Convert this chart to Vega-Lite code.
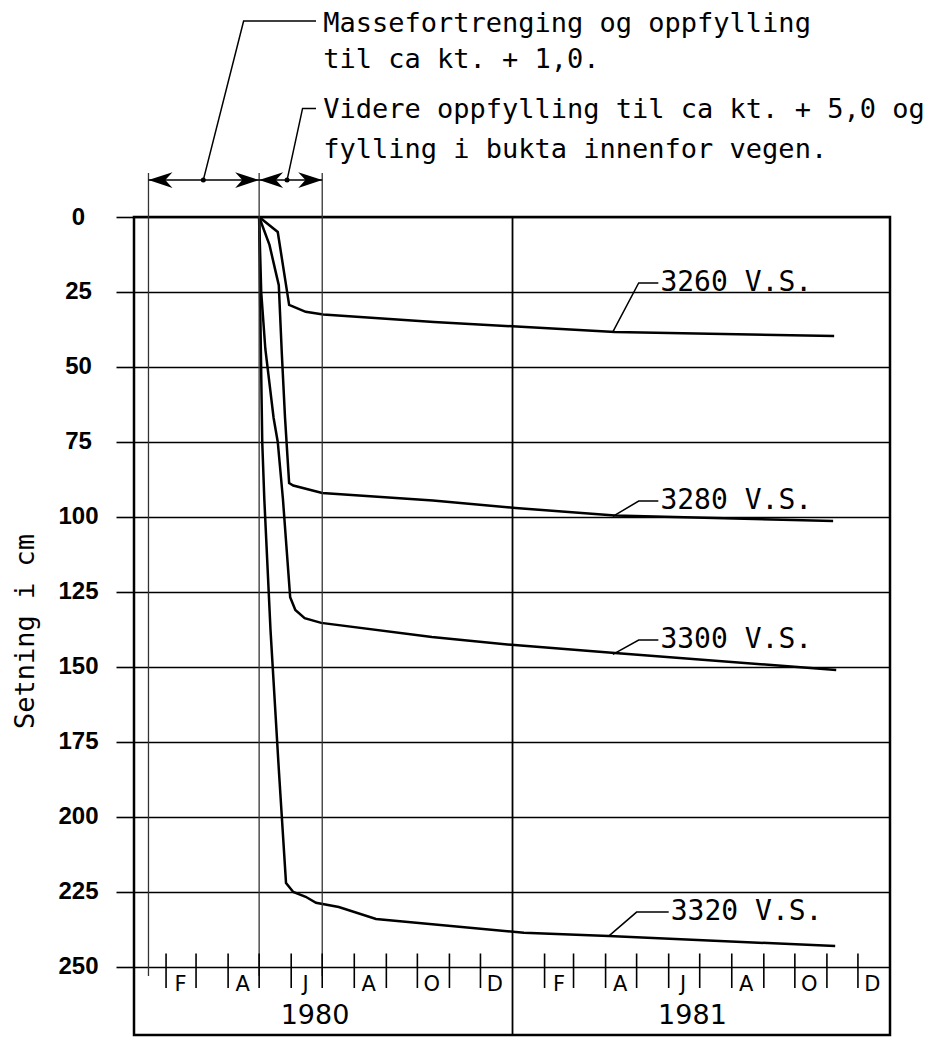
{
  "$schema": "https://vega.github.io/schema/vega-lite/v6.json",
  "autosize": "none",
  "padding": {"left": 134, "top": 217, "right": 54, "bottom": 5},
  "width": 756,
  "height": 818,
  "background": "white",
  "config": {
    "view": {"stroke": "black", "strokeWidth": 2.5},
    "font": "DejaVu Sans"
  },
  "datasets": {
    "curves": [
      {"s": "3260", "d": "1980-05-01", "v": 0},
      {"s": "3260", "d": "1980-05-19", "v": 5},
      {"s": "3260", "d": "1980-05-30", "v": 29.3},
      {"s": "3260", "d": "1980-06-15", "v": 31.6},
      {"s": "3260", "d": "1980-07-02", "v": 32.5},
      {"s": "3260", "d": "1980-10-17", "v": 35},
      {"s": "3260", "d": "1981-01-05", "v": 36.5},
      {"s": "3260", "d": "1981-04-10", "v": 38.3},
      {"s": "3260", "d": "1981-11-08", "v": 39.7},
      {"s": "3280", "d": "1980-05-01", "v": 0},
      {"s": "3280", "d": "1980-05-11", "v": 9.3},
      {"s": "3280", "d": "1980-05-17", "v": 18.3},
      {"s": "3280", "d": "1980-05-20", "v": 22.7},
      {"s": "3280", "d": "1980-05-23", "v": 46},
      {"s": "3280", "d": "1980-05-26", "v": 66.7},
      {"s": "3280", "d": "1980-05-30", "v": 88.7},
      {"s": "3280", "d": "1980-06-03", "v": 89.5},
      {"s": "3280", "d": "1980-07-01", "v": 92},
      {"s": "3280", "d": "1980-10-16", "v": 94.5},
      {"s": "3280", "d": "1981-01-04", "v": 97},
      {"s": "3280", "d": "1981-04-10", "v": 99.5},
      {"s": "3280", "d": "1981-11-07", "v": 101.3},
      {"s": "3300", "d": "1980-05-01", "v": 0},
      {"s": "3300", "d": "1980-05-03", "v": 25},
      {"s": "3300", "d": "1980-05-07", "v": 44},
      {"s": "3300", "d": "1980-05-15", "v": 67},
      {"s": "3300", "d": "1980-05-19", "v": 75},
      {"s": "3300", "d": "1980-05-24", "v": 94},
      {"s": "3300", "d": "1980-05-31", "v": 126.7},
      {"s": "3300", "d": "1980-06-05", "v": 131},
      {"s": "3300", "d": "1980-06-14", "v": 133.7},
      {"s": "3300", "d": "1980-06-30", "v": 135.3},
      {"s": "3300", "d": "1980-10-15", "v": 140},
      {"s": "3300", "d": "1981-01-03", "v": 142.7},
      {"s": "3300", "d": "1981-04-10", "v": 145.3},
      {"s": "3300", "d": "1981-11-10", "v": 151},
      {"s": "3320", "d": "1980-05-01", "v": 0},
      {"s": "3320", "d": "1980-05-02", "v": 29},
      {"s": "3320", "d": "1980-05-04", "v": 75},
      {"s": "3320", "d": "1980-05-06", "v": 94},
      {"s": "3320", "d": "1980-05-12", "v": 137.7},
      {"s": "3320", "d": "1980-05-20", "v": 184},
      {"s": "3320", "d": "1980-05-27", "v": 222},
      {"s": "3320", "d": "1980-06-03", "v": 225},
      {"s": "3320", "d": "1980-06-15", "v": 226.6},
      {"s": "3320", "d": "1980-06-25", "v": 228.6},
      {"s": "3320", "d": "1980-07-17", "v": 230},
      {"s": "3320", "d": "1980-08-22", "v": 234},
      {"s": "3320", "d": "1981-01-12", "v": 238.6},
      {"s": "3320", "d": "1981-04-04", "v": 239.7},
      {"s": "3320", "d": "1981-11-09", "v": 243}
    ],
    "leaders": [
      {"g": "3260", "o": 1, "d": "1981-04-08", "v": 38.3},
      {"g": "3260", "o": 2, "d": "1981-05-03", "v": 22},
      {"g": "3260", "o": 3, "d": "1981-05-22", "v": 22},
      {"g": "3280", "o": 1, "d": "1981-04-08", "v": 99.8},
      {"g": "3280", "o": 2, "d": "1981-05-03", "v": 94.7},
      {"g": "3280", "o": 3, "d": "1981-05-22", "v": 94.7},
      {"g": "3300", "o": 1, "d": "1981-04-08", "v": 145.8},
      {"g": "3300", "o": 2, "d": "1981-05-03", "v": 141},
      {"g": "3300", "o": 3, "d": "1981-05-22", "v": 141},
      {"g": "3320", "o": 1, "d": "1981-04-04", "v": 239.7},
      {"g": "3320", "o": 2, "d": "1981-05-01", "v": 231.7},
      {"g": "3320", "o": 3, "d": "1981-06-01", "v": 231.7},
      {"g": "a1", "o": 1, "d": "1980-03-08", "v": -12.3},
      {"g": "a1", "o": 2, "d": "1980-04-16", "v": -65.3},
      {"g": "a1", "o": 3, "d": "1980-06-25", "v": -65.3},
      {"g": "a2", "o": 1, "d": "1980-05-28", "v": -12.3},
      {"g": "a2", "o": 2, "d": "1980-06-12", "v": -36.2},
      {"g": "a2", "o": 3, "d": "1980-06-25", "v": -36.2}
    ],
    "labels": [
      {"t": "3260 V.S.", "d": "1981-05-24", "v": 22},
      {"t": "3280 V.S.", "d": "1981-05-24", "v": 94.7},
      {"t": "3300 V.S.", "d": "1981-05-24", "v": 141},
      {"t": "3320 V.S.", "d": "1981-06-03", "v": 231.7}
    ],
    "notes": [
      {"t": "Massefortrenging og oppfylling", "d": "1980-07-01", "v": -64.3},
      {"t": "til ca kt. + 1,0.", "d": "1980-07-01", "v": -52.5},
      {"t": "Videre oppfylling til ca kt. + 5,0 og", "d": "1980-07-01", "v": -35.7},
      {"t": "fylling i bukta innenfor vegen.", "d": "1980-07-01", "v": -22.5}
    ],
    "bounds": [
      {"d": "1980-01-15"},
      {"d": "1980-05-01"},
      {"d": "1980-07-01"}
    ],
    "spans": [
      {"d": "1980-01-15", "d2": "1980-05-01"},
      {"d": "1980-05-01", "d2": "1980-07-01"}
    ],
    "heads": [
      {"d": "1980-01-15", "dir": "l"},
      {"d": "1980-05-01", "dir": "r"},
      {"d": "1980-05-01", "dir": "l"},
      {"d": "1980-07-01", "dir": "r"}
    ],
    "dots": [
      {"d": "1980-03-08"},
      {"d": "1980-05-28"}
    ],
    "months": [
      {"d": "1980-02-01"}, {"d": "1980-03-01"}, {"d": "1980-04-01"}, {"d": "1980-05-01"},
      {"d": "1980-06-01"}, {"d": "1980-07-01"}, {"d": "1980-08-01"}, {"d": "1980-09-01"},
      {"d": "1980-10-01"}, {"d": "1980-11-01"}, {"d": "1980-12-01"},
      {"d": "1981-02-01"}, {"d": "1981-03-01"}, {"d": "1981-04-01"}, {"d": "1981-05-01"},
      {"d": "1981-06-01"}, {"d": "1981-07-01"}, {"d": "1981-08-01"}, {"d": "1981-09-01"},
      {"d": "1981-10-01"}, {"d": "1981-11-01"}, {"d": "1981-12-01"}
    ],
    "monthLetters": [
      {"d": "1980-02-15", "t": "F"}, {"d": "1980-04-15", "t": "A"}, {"d": "1980-06-15", "t": "J"},
      {"d": "1980-08-15", "t": "A"}, {"d": "1980-10-15", "t": "O"}, {"d": "1980-12-15", "t": "D"},
      {"d": "1981-02-15", "t": "F"}, {"d": "1981-04-15", "t": "A"}, {"d": "1981-06-15", "t": "J"},
      {"d": "1981-08-15", "t": "A"}, {"d": "1981-10-15", "t": "O"}, {"d": "1981-12-15", "t": "D"}
    ],
    "years": [
      {"d": "1980-06-24", "t": "1980"},
      {"d": "1981-06-24", "t": "1981"}
    ],
    "yearLine": [
      {"d": "1981-01-01"}
    ]
  },
  "layer": [
    {
      "data": {"name": "curves"},
      "mark": {"type": "line", "color": "black", "strokeWidth": 2.5},
      "encoding": {
        "x": {"field": "d", "type": "temporal", "axis": null,
              "scale": {"type": "utc", "domain": [{"year": 1980, "month": 1, "date": 1, "utc": true}, {"year": 1982, "month": 1, "date": 1, "utc": true}]}},
        "y": {"field": "v", "type": "quantitative", "title": "Setning i cm",
              "scale": {"domain": [0, 272.67], "reverse": true, "nice": false, "zero": false},
              "axis": {
                "values": [0, 25, 50, 75, 100, 125, 150, 175, 200, 225, 250],
                "title": "Setning i cm",
                "grid": true, "gridColor": "black", "gridWidth": 1.6, "gridOpacity": 1,
                "domain": false,
                "tickColor": "black", "tickSize": 18, "tickWidth": 1.6,
                "labelFont": "Liberation Sans", "labelFontSize": 24, "labelFontWeight": "bold",
                "labelColor": "black", "labelAlign": "center", "labelPadding": 38,
                "titleFont": "DejaVu Sans Mono", "titleFontSize": 27, "titleFontWeight": "normal",
                "titleColor": "black", "titleX": -101, "titleY": 414, "titleAngle": 270,
                "titleAlign": "center", "titleBaseline": "alphabetic"
              }},
        "detail": {"field": "s", "type": "nominal"}
      }
    },
    {
      "data": {"name": "bounds"},
      "mark": {"type": "rule", "color": "#333333", "strokeWidth": 1.3},
      "encoding": {
        "x": {"field": "d", "type": "temporal", "axis": null,
              "scale": {"type": "utc", "domain": [{"year": 1980, "month": 1, "date": 1, "utc": true}, {"year": 1982, "month": 1, "date": 1, "utc": true}]}},
        "y": {"datum": -14.7, "type": "quantitative", "title": "Setning i cm",
              "scale": {"domain": [0, 272.67], "reverse": true, "nice": false, "zero": false}},
        "y2": {"datum": 253}
      }
    },
    {
      "data": {"name": "yearLine"},
      "mark": {"type": "rule", "color": "black", "strokeWidth": 1.8},
      "encoding": {
        "x": {"field": "d", "type": "temporal", "axis": null,
              "scale": {"type": "utc", "domain": [{"year": 1980, "month": 1, "date": 1, "utc": true}, {"year": 1982, "month": 1, "date": 1, "utc": true}]}},
        "y": {"datum": 0, "type": "quantitative", "title": "Setning i cm",
              "scale": {"domain": [0, 272.67], "reverse": true, "nice": false, "zero": false}},
        "y2": {"datum": 272.67}
      }
    },
    {
      "data": {"name": "months"},
      "mark": {"type": "rule", "color": "black", "strokeWidth": 1.6},
      "encoding": {
        "x": {"field": "d", "type": "temporal", "axis": null,
              "scale": {"type": "utc", "domain": [{"year": 1980, "month": 1, "date": 1, "utc": true}, {"year": 1982, "month": 1, "date": 1, "utc": true}]}},
        "y": {"datum": 245.5, "type": "quantitative", "title": "Setning i cm",
              "scale": {"domain": [0, 272.67], "reverse": true, "nice": false, "zero": false}},
        "y2": {"datum": 257}
      }
    },
    {
      "data": {"name": "monthLetters"},
      "mark": {"type": "text", "color": "black", "font": "DejaVu Sans", "fontSize": 21, "align": "center", "baseline": "middle"},
      "encoding": {
        "x": {"field": "d", "type": "temporal", "axis": null,
              "scale": {"type": "utc", "domain": [{"year": 1980, "month": 1, "date": 1, "utc": true}, {"year": 1982, "month": 1, "date": 1, "utc": true}]}},
        "y": {"datum": 256, "type": "quantitative", "title": "Setning i cm",
              "scale": {"domain": [0, 272.67], "reverse": true, "nice": false, "zero": false}},
        "text": {"field": "t"}
      }
    },
    {
      "data": {"name": "years"},
      "mark": {"type": "text", "color": "black", "font": "DejaVu Sans", "fontSize": 27, "align": "center", "baseline": "middle"},
      "encoding": {
        "x": {"field": "d", "type": "temporal", "axis": null,
              "scale": {"type": "utc", "domain": [{"year": 1980, "month": 1, "date": 1, "utc": true}, {"year": 1982, "month": 1, "date": 1, "utc": true}]}},
        "y": {"datum": 266.3, "type": "quantitative", "title": "Setning i cm",
              "scale": {"domain": [0, 272.67], "reverse": true, "nice": false, "zero": false}},
        "text": {"field": "t"}
      }
    },
    {
      "data": {"name": "leaders"},
      "mark": {"type": "line", "color": "black", "strokeWidth": 1.5},
      "encoding": {
        "x": {"field": "d", "type": "temporal", "axis": null,
              "scale": {"type": "utc", "domain": [{"year": 1980, "month": 1, "date": 1, "utc": true}, {"year": 1982, "month": 1, "date": 1, "utc": true}]}},
        "y": {"field": "v", "type": "quantitative", "title": "Setning i cm",
              "scale": {"domain": [0, 272.67], "reverse": true, "nice": false, "zero": false}},
        "detail": {"field": "g", "type": "nominal"},
        "order": {"field": "o", "type": "quantitative"}
      }
    },
    {
      "data": {"name": "labels"},
      "mark": {"type": "text", "color": "black", "font": "DejaVu Sans Mono", "fontSize": 28, "align": "left", "baseline": "middle"},
      "encoding": {
        "x": {"field": "d", "type": "temporal", "axis": null,
              "scale": {"type": "utc", "domain": [{"year": 1980, "month": 1, "date": 1, "utc": true}, {"year": 1982, "month": 1, "date": 1, "utc": true}]}},
        "y": {"field": "v", "type": "quantitative", "title": "Setning i cm",
              "scale": {"domain": [0, 272.67], "reverse": true, "nice": false, "zero": false}},
        "text": {"field": "t"}
      }
    },
    {
      "data": {"name": "notes"},
      "mark": {"type": "text", "color": "black", "font": "DejaVu Sans Mono", "fontSize": 27, "align": "left", "baseline": "middle", "dx": 1},
      "encoding": {
        "x": {"field": "d", "type": "temporal", "axis": null,
              "scale": {"type": "utc", "domain": [{"year": 1980, "month": 1, "date": 1, "utc": true}, {"year": 1982, "month": 1, "date": 1, "utc": true}]}},
        "y": {"field": "v", "type": "quantitative", "title": "Setning i cm",
              "scale": {"domain": [0, 272.67], "reverse": true, "nice": false, "zero": false}},
        "text": {"field": "t"}
      }
    },
    {
      "data": {"name": "spans"},
      "mark": {"type": "rule", "color": "black", "strokeWidth": 1.5},
      "encoding": {
        "x": {"field": "d", "type": "temporal", "axis": null,
              "scale": {"type": "utc", "domain": [{"year": 1980, "month": 1, "date": 1, "utc": true}, {"year": 1982, "month": 1, "date": 1, "utc": true}]}},
        "x2": {"field": "d2"},
        "y": {"datum": -12.3, "type": "quantitative", "title": "Setning i cm",
              "scale": {"domain": [0, 272.67], "reverse": true, "nice": false, "zero": false}}
      }
    },
    {
      "data": {"name": "heads"},
      "mark": {"type": "point", "filled": true, "color": "black", "opacity": 1, "size": 576},
      "encoding": {
        "x": {"field": "d", "type": "temporal", "axis": null,
              "scale": {"type": "utc", "domain": [{"year": 1980, "month": 1, "date": 1, "utc": true}, {"year": 1982, "month": 1, "date": 1, "utc": true}]}},
        "y": {"datum": -12.3, "type": "quantitative", "title": "Setning i cm",
              "scale": {"domain": [0, 272.67], "reverse": true, "nice": false, "zero": false}},
        "shape": {"field": "dir", "type": "nominal", "legend": null,
                  "scale": {"domain": ["l", "r"], "range": ["M0,0L2,-0.65L1.4,0L2,0.65Z", "M0,0L-2,-0.65L-1.4,0L-2,0.65Z"]}}
      }
    },
    {
      "data": {"name": "dots"},
      "mark": {"type": "point", "filled": true, "color": "black", "opacity": 1, "size": 25},
      "encoding": {
        "x": {"field": "d", "type": "temporal", "axis": null,
              "scale": {"type": "utc", "domain": [{"year": 1980, "month": 1, "date": 1, "utc": true}, {"year": 1982, "month": 1, "date": 1, "utc": true}]}},
        "y": {"datum": -12.3, "type": "quantitative", "title": "Setning i cm",
              "scale": {"domain": [0, 272.67], "reverse": true, "nice": false, "zero": false}}
      }
    }
  ]
}
